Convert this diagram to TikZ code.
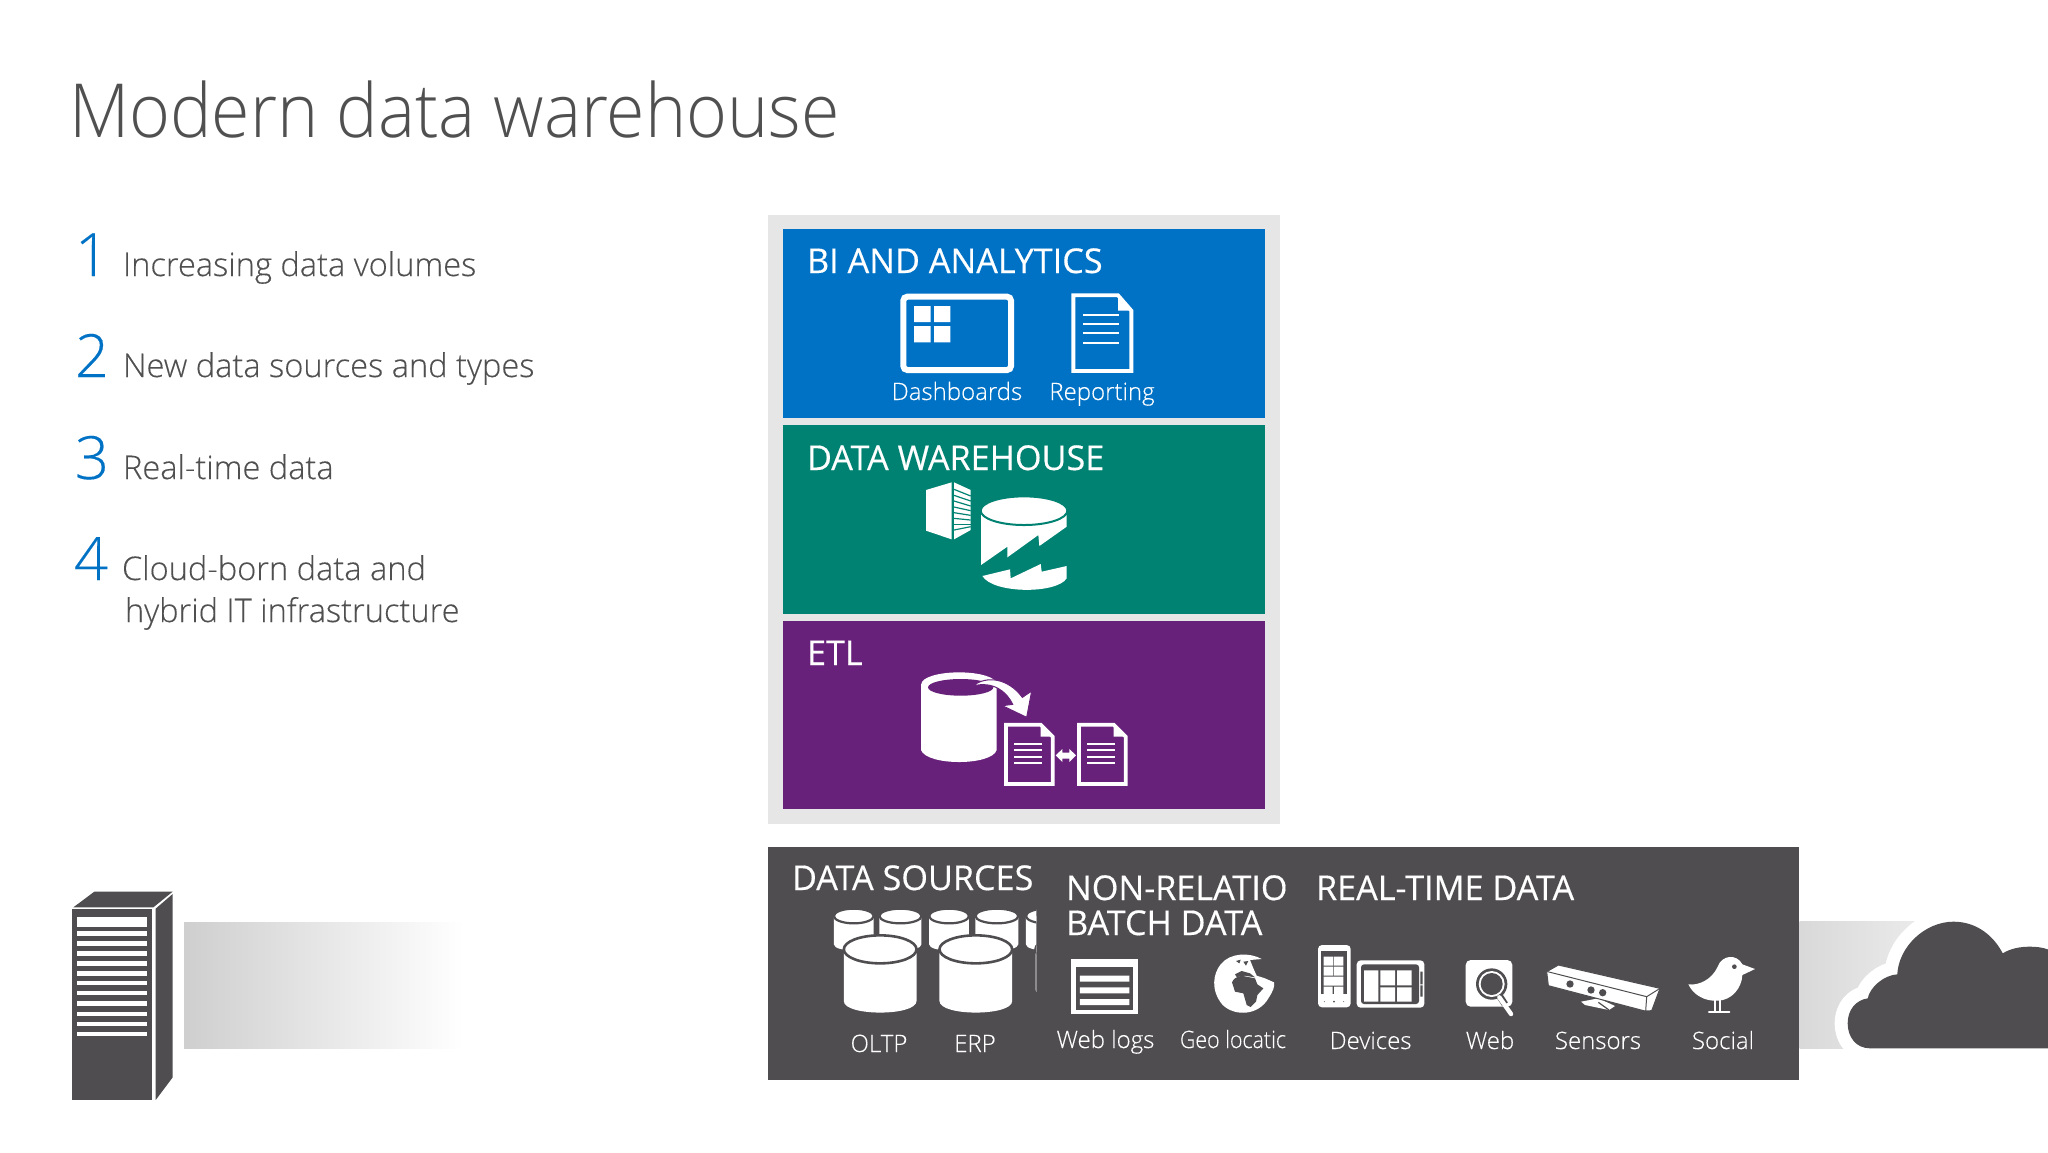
\documentclass[tikz,border=0pt]{standalone}
\usepackage{fontspec}
\setmainfont{Open Sans}
\newfontfamily\lightf[FakeBold=0.25]{Open Sans Light}
\newfontfamily\titlef[FakeStretch=0.936]{Open Sans Light}
\newfontfamily\headf[FakeBold=0.35,FakeStretch=1.0]{Open Sans}
\newfontfamily\geof[FakeStretch=0.89,FakeBold=0.25]{Open Sans Light}
\definecolor{msblue}{HTML}{0072C6}
\definecolor{msgreen}{HTML}{008272}
\definecolor{mspurple}{HTML}{68217A}
\definecolor{msdark}{HTML}{4F4D50}
\definecolor{mspanel}{HTML}{E6E6E6}
\definecolor{mstext}{HTML}{505050}
\tikzset{
  lbl/.style={anchor=base west,inner sep=0pt,outer sep=0pt},
  clbl/.style={anchor=base,inner sep=0pt,outer sep=0pt},
  head/.style={lbl,text=white,font=\headf\fontsize{17.1}{20}\selectfont},
  sub/.style={clbl,text=white,font=\lightf\fontsize{12}{15}\selectfont},
  item/.style={lbl,text=mstext,font=\lightf\fontsize{16.3}{20}\selectfont},
  num/.style={lbl,text=msblue,font=\lightf\fontsize{29.8}{34}\selectfont},
  zA/.style={shift={(770,210)},x=0.16667pt,y=-0.16667pt},
  zB/.style={shift={(770,610)},x=0.16667pt,y=-0.16667pt},
  zC/.style={shift={(760,840)},x=0.19133pt,y=-0.16667pt},
  zD/.style={shift={(1300,840)},x=0.23852pt,y=-0.16667pt},
  zE/.style={shift={(50,870)},x=0.16667pt,y=-0.16667pt},
  zF/.style={shift={(1310,935)},x=0.16667pt,y=-0.16667pt},
  zG/.style={shift={(1535,945)},x=0.16667pt,y=-0.16667pt},
  zH/.style={shift={(1200,945)},x=0.16667pt,y=-0.16667pt},
}
% cylinder: cx, top centre y, rx, ry, bottom y, separating line width
\newcommand\dbcyl[6]{%
  \fill[white] ({#1-#3},#2) -- ({#1-#3},{#5-#4}) .. controls ({#1-#3},{#5+#4*0.1}) and ({#1+#3},{#5+#4*0.1}) .. ({#1+#3},{#5-#4}) -- ({#1+#3},#2) -- cycle;
  \filldraw[fill=white,draw=msdark,line width=#6] (#1,#2) ellipse [x radius=#3,y radius=#4];
}
% page icon: x0,y0,x1,y1,foldx,foldy
\newcommand\pageicon[6]{%
  \draw[white,line width=1.9pt,line join=miter] (#1,#2) -- (#5,#2) -- (#3,#6) -- (#3,#4) -- (#1,#4) -- cycle;
  \fill[white] (#5,#2) -- (#3,#6) -- (#5,#6) -- cycle;
}
\begin{document}
\begin{tikzpicture}[x=0.5pt,y=-0.5pt]
\useasboundingbox (0,0) rectangle (2048,1152);
\fill[white] (0,0) rectangle (2048,1152);

% title and list
\node[lbl,text=mstext,font=\titlef\fontsize{37.3}{44}\selectfont] (title) at (69,137) {Modern data warehouse};
\node[num] (n1) at (75,276) {1};
\node[num] (n2) at (75,377) {2};
\node[num] (n3) at (75,479) {3};
\node[num] (n4) at (74,580) {4};
\node[item] (t1) at (123,276) {Increasing data volumes};
\node[item] (t2) at (123,377) {New data sources and types};
\node[item] (t3) at (123,479) {Real-time data};
\node[item] (t4) at (122,580) {Cloud-born data and};
\node[item] (t5) at (125,622) {hybrid IT infrastructure};

% stacked panel
\fill[mspanel] (768,215) rectangle (1280,824);
\fill[msblue] (783,229) rectangle (1265,418);
\fill[msgreen] (783,425) rectangle (1265,614);
\fill[mspurple] (783,621) rectangle (1265,809);
\node[head] (bi) at (807,273) {BI AND ANALYTICS};
\node[head] (dw) at (807,470) {DATA WAREHOUSE};
\node[head] (etl) at (807,665) {ETL};
\node[sub] (dash) at (957,400) {Dashboards};
\node[sub] (rep) at (1102,400) {Reporting};

% BI icons
\begin{scope}[zA]
  \draw[white,line width=3pt,rounded corners=2pt] (400,260) rectangle (723,480);
  \fill[white] (432,288) rectangle (482,336) (492,288) rectangle (541,336) (432,348) rectangle (482,397) (492,348) rectangle (541,397);
  \pageicon{910}{256}{1084}{483}{1044}{302}
  \draw[white,line width=1pt] (940,315) -- (1047,315) (940,343) -- (1047,343) (940,370) -- (1047,370) (940,398) -- (1047,398);
  % warehouse icon
  \fill[white] (468,840) -- (545,817) -- (545,988) -- (468,962) -- cycle;
  \fill[white] (552,817) -- (602,840) -- (602,960) -- (552,988) -- cycle;
  \foreach \a/\b in {838/858,856/873,873/888,891/902,908/916,925/930,943/943,960/950}
    \draw[msgreen,line width=0.6pt] (552,\a) -- (602,\b);
  \fill[white] (633,905) -- (633,1065) -- (712,1010) -- (712,1042) -- (805,975) -- (808,1008) -- (890,950) -- (890,905) -- cycle;
  \filldraw[fill=white,draw=msgreen,line width=1pt] (762,902) ellipse [x radius=130,y radius=43];
  \fill[white] (637,1098) -- (720,1078) -- (722,1105) -- (812,1062) -- (815,1085) -- (890,1068) -- (890,1105) .. controls (860,1152) and (670,1152) .. (637,1098) -- cycle;
\end{scope}

% ETL icons
\begin{scope}[zB]
  \fill[white] (453,222) -- (453,420) .. controls (470,468) and (665,468) .. (680,420) -- (680,222) -- cycle;
  \fill[white] (567,222) ellipse [x radius=113,y radius=35];
  \fill[mspurple] (572,232) ellipse [x radius=98,y radius=25];
  \filldraw[fill=white,draw=mspurple,line width=0.5pt] (608,228) .. controls (650,195) and (715,205) .. (757,262) -- (785,243) -- (770,322) -- (697,287) -- (728,283) .. controls (710,245) and (670,212) .. (608,228) -- cycle;
  \foreach \dx in {0,219}{
    \begin{scope}[xshift=\dx*0.16667pt]
      \pageicon{708}{344}{848}{522}{812}{380}
      \draw[white,line width=1pt] (732,402) -- (817,402) (732,421) -- (817,421) (732,441) -- (817,441) (732,460) -- (817,460);
    \end{scope}}
  \fill[white] (857,436) -- (877,417) -- (877,428) -- (898,428) -- (898,417) -- (918,436) -- (898,456) -- (898,446) -- (877,446) -- (877,456) -- cycle;
\end{scope}

% left server and band
\shade[left color=black!19,right color=white] (184,922) rectangle (463,1048);
\begin{scope}[zE]
  \fill[msdark] (65,118) rectangle (307,690);
  \fill[msdark] (70,112) -- (133,65) -- (368,65) -- (310,112) -- cycle;
  \fill[msdark] (317,116) -- (368,72) -- (368,622) -- (317,690) -- cycle;
  \fill[white] (82,141) rectangle (291,170);
  \foreach \y in {183,213,243,273,303,332,362,394,425,455,485}
    \fill[white] (82,\y) rectangle (291,\y+14);
\end{scope}

% right band and cloud
\begin{scope}
  \clip (0,0) rectangle (2048,1152);
  \begin{scope}[zD]
    \shade[left color=black!15,right color=black!8] (1047,245) rectangle (1300,625);
    \path[draw=white,line width=13pt,line join=round,fill=msdark] (1195,625) .. controls (1165,625) and (1148,590) .. (1148,550) .. controls (1148,510) and (1165,480) .. (1190,475) .. controls (1195,440) and (1225,405) .. (1252,403) .. controls (1255,320) and (1310,245) .. (1370,245) .. controls (1420,245) and (1455,290) .. (1473,340) .. controls (1490,325) and (1510,320) .. (1530,320) .. controls (1560,320) and (1580,330) .. (1600,360) -- (1700,625) -- cycle;
    \fill[msdark] (1195,625) .. controls (1165,625) and (1148,590) .. (1148,550) .. controls (1148,510) and (1165,480) .. (1190,475) .. controls (1195,440) and (1225,405) .. (1252,403) .. controls (1255,320) and (1310,245) .. (1370,245) .. controls (1420,245) and (1455,290) .. (1473,340) .. controls (1490,325) and (1510,320) .. (1530,320) .. controls (1560,320) and (1580,330) .. (1600,360) -- (1700,625) -- cycle;
  \end{scope}
\end{scope}

% data sources box
\fill[msdark] (768,847) rectangle (1799,1080);
\node[head] (ds) at (792,890) {DATA SOURCES};
\node[head] (nr) at (1066,900) {NON-RELATIO};
\node[head] (bd) at (1066,935) {BATCH DATA};
\node[head] (rt) at (1316,900) {REAL-TIME DATA};
\node[sub] (oltp) at (879,1052) {OLTP};
\node[sub] (erp) at (975,1052) {ERP};
\node[sub] (wl) at (1105.5,1048) {Web logs};
\node[sub,font=\geof\fontsize{12}{15}\selectfont] (geo) at (1233,1048) {Geo locatic};
\node[sub] (dev) at (1370.6,1049) {Devices};
\node[sub] (web) at (1490,1049) {Web};
\node[sub] (sen) at (1598,1049) {Sensors};
\node[sub] (soc) at (1723,1049) {Social};

\begin{scope}[zC]
  \begin{scope}
    \clip (150,190) rectangle (722,540);
    \dbcyl{245}{228}{52}{22}{335}{1.1pt}
    \dbcyl{367}{228}{55}{22}{335}{1.1pt}
    \dbcyl{494}{228}{52}{22}{335}{1.1pt}
    \dbcyl{619}{228}{56}{22}{335}{1.1pt}
    \dbcyl{747}{228}{52}{22}{335}{1.1pt}
    \dbcyl{314}{328}{95}{42}{525}{1.3pt}
    \dbcyl{564}{328}{95}{42}{525}{1.3pt}
    \dbcyl{814}{328}{94}{42}{490}{1.3pt}
  \end{scope}
  % web logs
  \fill[white] (812,357) rectangle (988,522);
  \fill[msdark] (825,382) rectangle (976,510);
  \fill[white] (836,407) rectangle (965,425) (836,442) rectangle (965,460) (836,477) rectangle (965,495);
\end{scope}

% globe
\begin{scope}[zH]
  \fill[white] (185,42) .. controls (150,22) and (90,22) .. (62,58) .. controls (40,85) and (30,135) .. (68,180) .. controls (105,215) and (175,212) .. (205,160) .. controls (218,140) and (225,125) .. (222,112) -- (195,100) -- (170,92) -- (160,70) -- (150,45) -- cycle;
  \fill[msdark] (96,112) .. controls (105,92) and (125,90) .. (140,95) -- (165,100) -- (172,118) -- (190,130) -- (172,150) -- (168,170) -- (152,186) -- (140,180) -- (130,145) -- (105,140) -- cycle;
  \fill[msdark] (105,88) -- (125,78) -- (150,85) -- (165,97) -- (135,92) -- (110,96) -- cycle;
  \fill[msdark] (108,48) -- (122,44) -- (118,55) -- cycle (130,50) -- (145,48) -- (138,62) -- cycle;
\end{scope}

% devices and web
\begin{scope}[zF]
  \fill[white,rounded corners=2pt] (24,30) rectangle (122,217);
  \fill[msdark] (33,47) rectangle (112,178);
  \fill[white] (41,65) rectangle (70,92) (72,65) rectangle (100,92) (41,95) rectangle (70,122) (72,95) rectangle (100,122) (41,125) rectangle (100,152) (41,155) rectangle (68,178) (72,155) rectangle (100,178);
  \fill[msdark] (72,200) circle [radius=3] (43,200) circle [radius=1.5] (101,200) circle [radius=1.5];
  \fill[white,rounded corners=2pt] (140,76) rectangle (343,218);
  \fill[msdark,rounded corners=1.5pt] (153,88) rectangle (327,207);
  \fill[white] (162,106) rectangle (205,200) (211,106) rectangle (255,151) (261,106) rectangle (305,151) (211,157) rectangle (255,200) (261,157) rectangle (305,200);
  \fill[msdark] (331,110) rectangle (338,148) (331,151) rectangle (338,185);
  \fill[white,rounded corners=2.5pt] (467,75) rectangle (607,215);
  \fill[msdark] (545,147) circle [radius=47];
  \fill[white] (545,147) circle [radius=39];
  \fill[msdark] (545,147) circle [radius=33];
  \draw[msdark,line width=3.4pt] (570,185) -- (585,208);
  \draw[white,line width=2.2pt,line cap=round] (568,187) -- (603,237);
\end{scope}

% sensor and bird
\begin{scope}[zG]
  \fill[white] (138,170) -- (190,160) -- (240,183) -- (222,195) -- (150,180) -- cycle;
  \draw[msdark,line width=0.6pt] (190,172) -- (222,195);
  \filldraw[fill=white,draw=msdark,line width=0.5pt] (35,80) -- (70,60) -- (375,130) -- (350,197) -- (330,198) -- (40,122) -- cycle;
  \draw[msdark,line width=0.5pt] (38,80) -- (335,155) -- (332,198) (335,155) -- (375,130);
  \fill[msdark] (105,117) circle [radius=11] (168,135) circle [radius=11] (203,143) circle [radius=11];
  \fill[white] (460,118) .. controls (490,122) and (530,105) .. (548,65) .. controls (560,30) and (605,25) .. (622,58) -- (660,72) -- (622,90) .. controls (620,130) and (590,165) .. (550,167) .. controls (510,170) and (475,150) .. (460,118) -- cycle;
  \draw[white,line width=1.1pt] (540,160) -- (540,200) (556,160) -- (556,200);
  \draw[white,line width=1.1pt,line cap=round] (522,202) -- (583,202);
  \fill[msdark] (598,65) circle [radius=7];
\end{scope}
\end{tikzpicture}
\end{document}
